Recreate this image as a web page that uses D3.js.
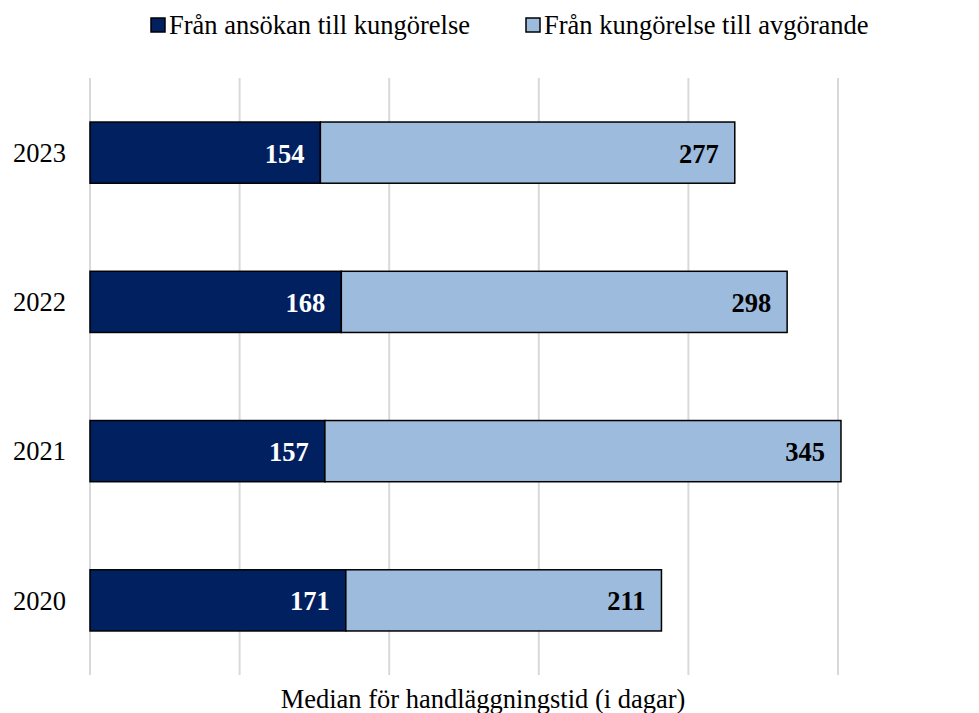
<!DOCTYPE html>
<html lang="sv">
<head>
  <meta charset="UTF-8" />
  <title>Median för handläggningstid</title>
  <script src="https://d3js.org/d3.v7.min.js"></script>
  <style>
    body { margin: 0; background: #fff; }
  </style>
</head>
<body>
<div id="chart"></div>
<script>
// Chart data
const years = ["2023", "2022", "2021", "2020"];
const seriesNames = ["Från ansökan till kungörelse", "Från kungörelse till avgörande"];
const ansokanKungorelse = [154, 168, 157, 171];
const kungorelseAvgorande = [277, 298, 345, 211];
const gridTicks = [0, 100, 200, 300, 400, 500];
const colors = ["#002060", "#9dbbdd"];
const labelColors = ["#fff", "#000"];

const FONT = "'Times New Roman', 'Liberation Serif', Tinos, serif";
const FS = 26.5;
const width = 979, height = 713;
const plot = { left: 90, right: 838, top: 78, bottom: 675 };

const svg = d3.select("#chart").append("svg")
  .attr("width", width)
  .attr("height", height)
  .attr("font-family", FONT);

const x = d3.scaleLinear().domain([0, 500]).range([plot.left, plot.right]);
const y = d3.scaleBand().domain(years).range([plot.top, plot.bottom]).paddingInner(0.59).paddingOuter(0.295);

// vertical gridlines
svg.append("g").selectAll("line")
  .data(gridTicks)
  .join("line")
  .attr("x1", d => x(d)).attr("x2", d => x(d))
  .attr("y1", plot.top).attr("y2", plot.bottom)
  .attr("stroke", "#d9d9d9")
  .attr("stroke-width", 2);

// stack the two series
const rows = years.map((yr, i) => ({ year: yr, s0: ansokanKungorelse[i], s1: kungorelseAvgorande[i] }));
const stacked = d3.stack().keys(["s0", "s1"])(rows);

const layers = svg.append("g").selectAll("g")
  .data(stacked)
  .join("g");

layers.selectAll("rect")
  .data((d, k) => d.map(p => ({ p, k })))
  .join("rect")
  .attr("x", d => x(d.p[0]))
  .attr("y", d => y(d.p.data.year))
  .attr("width", d => x(d.p[1]) - x(d.p[0]))
  .attr("height", y.bandwidth())
  .attr("fill", d => colors[d.k])
  .attr("stroke", "#000")
  .attr("stroke-width", 1.5);

// data labels, inside end
layers.selectAll("text")
  .data((d, k) => d.map(p => ({ p, k })))
  .join("text")
  .attr("x", d => x(d.p[1]) - 16)
  .attr("y", d => y(d.p.data.year) + y.bandwidth() / 2)
  .attr("dy", "0.38em")
  .attr("text-anchor", "end")
  .attr("font-size", FS)
  .attr("font-weight", "bold")
  .attr("fill", d => labelColors[d.k])
  .text(d => d.p[1] - d.p[0]);

// category axis labels
svg.append("g").selectAll("text")
  .data(years)
  .join("text")
  .attr("x", 66)
  .attr("y", d => y(d) + y.bandwidth() / 2)
  .attr("dy", "0.35em")
  .attr("text-anchor", "end")
  .attr("font-size", FS)
  .attr("fill", "#000")
  .text(d => d);

// axis title
svg.append("text")
  .attr("x", 483)
  .attr("y", 708)
  .attr("text-anchor", "middle")
  .attr("font-size", FS)
  .attr("fill", "#000")
  .text("Median för handläggningstid (i dagar)");

// legend
const legendX = [151, 526];
const legend = svg.append("g").selectAll("g")
  .data(seriesNames)
  .join("g")
  .attr("transform", (d, i) => `translate(${legendX[i]},18)`);

legend.append("rect")
  .attr("width", 14).attr("height", 14)
  .attr("fill", (d, i) => colors[i])
  .attr("stroke", "#000")
  .attr("stroke-width", 1.5);

legend.append("text")
  .attr("x", 18)
  .attr("y", 16)
  .attr("font-size", FS)
  .attr("fill", "#000")
  .text(d => d);
</script>
</body>
</html>
